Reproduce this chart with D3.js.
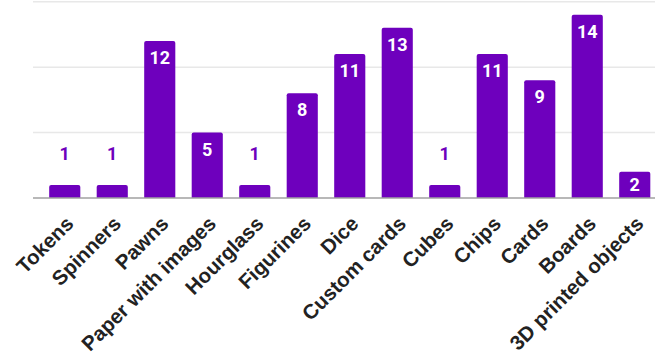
<!DOCTYPE html>
<html><head><meta charset="utf-8">
<script src="https://cdn.jsdelivr.net/npm/d3@7"></script>
<style>html,body{margin:0;padding:0;background:#fff;}svg{display:block;}</style>
</head><body><svg id="chart" width="659" height="360"></svg>
<script>
const categories = ["Tokens","Spinners","Pawns","Paper with images","Hourglass","Figurines","Dice","Custom cards","Cubes","Chips","Cards","Boards","3D printed objects"];
const values = [1,1,12,5,1,8,11,13,1,11,9,14,2];
const gridTicks = [0,5,10,15];

const svg = d3.select("#chart");
const barColor = "#6e00bd";
const y = d3.scaleLinear().domain([0,15]).range([198,1.7]);
const x = d3.scaleBand().domain(categories).range([41,658.5]).paddingInner(0.345).paddingOuter(0.1725);

// gridlines
svg.append("g").selectAll("line").data(gridTicks.slice(1)).join("line")
  .attr("x1",33).attr("x2",655)
  .attr("y1",d=>y(d)).attr("y2",d=>y(d))
  .attr("stroke","#e8e8e8").attr("stroke-width",1.5);

// bars
svg.append("g").selectAll("path").data(values).join("path")
  .attr("d",(d,i)=>{
    const x0=x(categories[i]), w=x.bandwidth(), t=y(d), b=y(0), r=2;
    return `M${x0},${b}V${t+r}Q${x0},${t} ${x0+r},${t}H${x0+w-r}Q${x0+w},${t} ${x0+w},${t+r}V${b}Z`;
  })
  .attr("fill",barColor);

// baseline
svg.append("line").attr("x1",33).attr("x2",655).attr("y1",y(0)).attr("y2",y(0))
  .attr("stroke","#a0a0a0").attr("stroke-width",1.5);

// value labels
svg.append("g").selectAll("text").data(values).join("text")
  .attr("x",(d,i)=>x(categories[i])+x.bandwidth()/2)
  .attr("y",d=>{
    const h=y(0)-y(d);
    if(h<20) return y(d)-25;
    if(h<40) return y(d)+h/2+6.5;
    return y(d)+23;
  })
  .attr("text-anchor","middle")
  .attr("font-family","Roboto, Arial, sans-serif")
  .attr("font-weight","bold")
  .attr("font-size",18)
  .attr("fill",d=>(y(0)-y(d))<20?barColor:"#ffffff")
  .text(d=>d);

// x labels
svg.append("g").selectAll("text").data(categories).join("text")
  .attr("transform",d=>`translate(${x(d)+x.bandwidth()/2+10},${225}) rotate(-45)`)
  .attr("text-anchor","end")
  .attr("font-family","'Liberation Sans', Arial, sans-serif")
  .attr("font-weight","bold")
  .attr("font-size",20.5)
  .attr("fill","#222222")
  .text(d=>d);
</script></body></html>
